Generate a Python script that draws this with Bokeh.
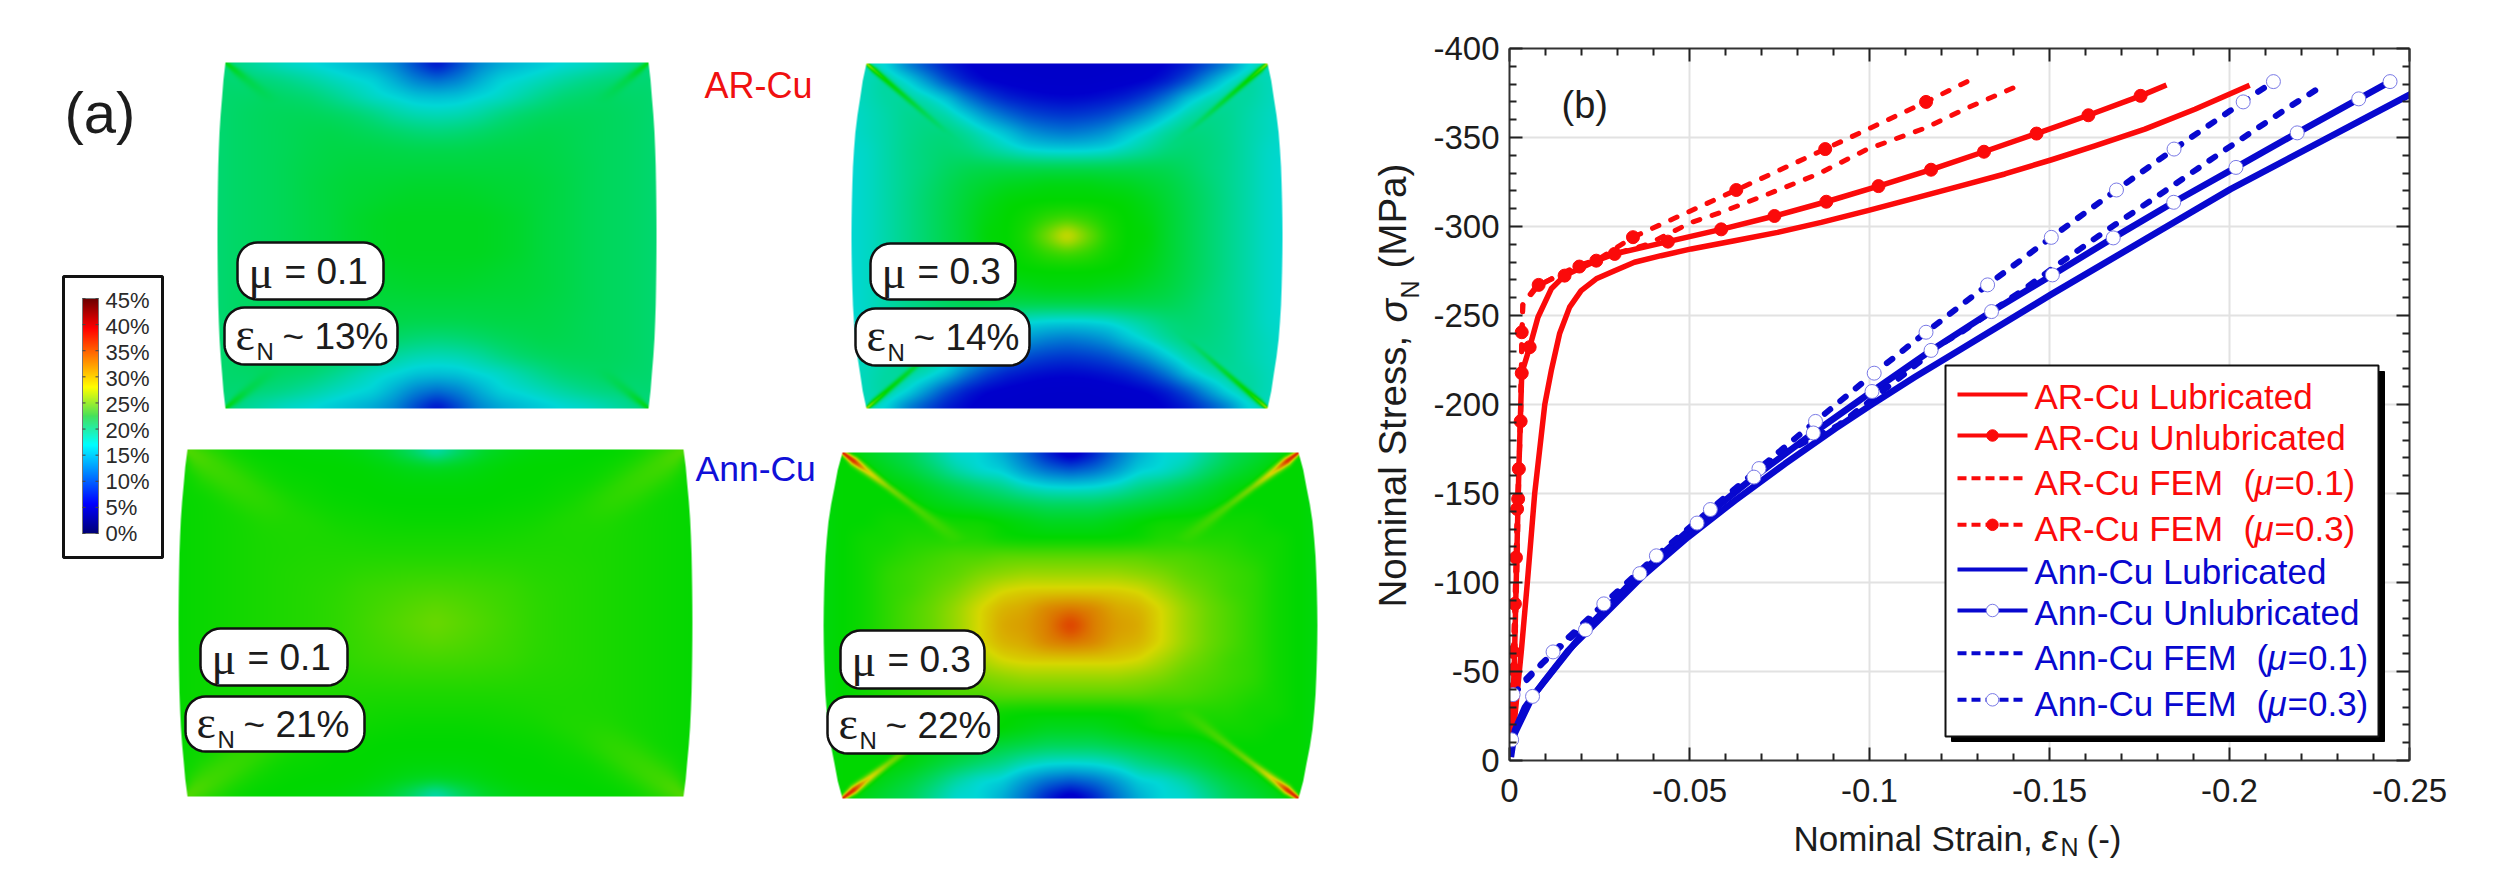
import math
import numpy as np
from bokeh.embed import file_html
from bokeh.resources import INLINE
from bokeh.layouts import row, column
from bokeh.models import Range1d, LinearAxis, FixedTicker, Label
from bokeh.plotting import figure

# ---------- chart (b): values (magnitudes of strain, MPa) ----------
ar_lub_e = [0.0004, 0.0013, 0.0033, 0.005, 0.007, 0.0098, 0.0116, 0.0139, 0.0167, 0.0199, 0.0241, 0.0292, 0.0347, 0.0421, 0.0505, 0.0625, 0.0745, 0.0866, 0.0995, 0.1134, 0.1256, 0.1376, 0.1506, 0.1626, 0.1765, 0.1904, 0.2056]
ar_lub_s = [2, 20.6, 61.8, 101, 150, 200, 219, 239.7, 254.7, 264, 270.6, 275.2, 279.9, 283.6, 287.4, 292, 296.7, 302.3, 308.9, 316.4, 323, 329.5, 337.5, 345.3, 354.7, 365.9, 379.3]
ar_unl_e = [0.0003, 0.0013, 0.0024, 0.0026, 0.0034, 0.0056, 0.0079, 0.0116, 0.0153, 0.0241, 0.0292, 0.044, 0.0588, 0.0736, 0.088, 0.1025, 0.1171, 0.1318, 0.1464, 0.1608, 0.1753, 0.1825]
ar_unl_s = [5, 51, 147, 163.8, 217.6, 232.2, 249, 265, 272.4, 280.8, 284.6, 291.5, 298.4, 305.9, 313.9, 322.7, 331.9, 342, 352.2, 362.5, 373.4, 379.5]
ar_unl_me = [0.0013, 0.0024, 0.0026, 0.0034, 0.0056, 0.0153, 0.0292, 0.044, 0.0588, 0.0736, 0.088, 0.1025, 0.1171, 0.1318, 0.1464, 0.1608, 0.1753]
ar_unl_ms = [51, 147, 163.8, 217.6, 232.2, 272.4, 284.6, 291.5, 298.4, 305.9, 313.9, 322.7, 331.9, 342, 352.2, 362.5, 373.4]
ar_f1_e = [0.0003, 0.0008, 0.0015, 0.002, 0.0025, 0.003, 0.0033, 0.0037, 0.0069, 0.0116, 0.019, 0.0292, 0.0384, 0.0505, 0.0588, 0.0718, 0.0856, 0.0995, 0.1153, 0.1274, 0.1422]
ar_f1_s = [5, 20, 60, 100, 150, 190, 220, 256.5, 265, 270.6, 278, 284.6, 290, 302.3, 308, 318.2, 329.4, 343.5, 355.2, 366.8, 379.9]
ar_f3_e = [0.0003, 0.001, 0.0015, 0.0018, 0.0021, 0.0031, 0.0034, 0.0037, 0.0081, 0.0194, 0.0241, 0.0343, 0.063, 0.0877, 0.1157, 0.1278]
ar_f3_s = [5, 61, 88, 114, 141.3, 190.6, 240.6, 256, 267.2, 277.5, 280.8, 294, 320.5, 343.5, 370, 382.1]
ar_f3_me = [0.001, 0.0015, 0.0018, 0.0021, 0.0031, 0.0034, 0.0081, 0.0194, 0.0241, 0.0343, 0.063, 0.0877, 0.1157]
ar_f3_ms = [61, 88, 114, 141.3, 190.6, 240.6, 267.2, 277.5, 280.8, 294, 320.5, 343.5, 370]

ann_lub_e = [0.0004, 0.0015, 0.0043, 0.0098, 0.0163, 0.0256, 0.0367, 0.0496, 0.0626, 0.0765, 0.0904, 0.1006, 0.1126, 0.1256, 0.1506, 0.2003, 0.2503]
ann_lub_s = [2, 17, 30, 45, 61.8, 80.5, 103, 125.5, 146, 166.7, 186.3, 200, 215.4, 231.3, 262, 321, 374.3]
ann_unl_e = [0.0006, 0.0064, 0.0211, 0.0362, 0.0521, 0.0679, 0.0844, 0.1007, 0.1171, 0.1339, 0.1508, 0.1677, 0.1845, 0.2018, 0.2188, 0.2359, 0.2446]
ann_unl_s = [11.6, 36, 73.4, 105, 133.4, 159.2, 184, 207.3, 230.4, 252.2, 272.8, 293.6, 313.6, 333.2, 352.6, 371.7, 381.4]
ann_f1_e = [0.0047, 0.0089, 0.0172, 0.0302, 0.0441, 0.0607, 0.0737, 0.0913, 0.0996, 0.108, 0.1208, 0.1255, 0.1431, 0.1519, 0.1644, 0.1821, 0.1991, 0.2163, 0.2265]
ann_f1_s = [46, 54.3, 69.4, 93.7, 118, 148, 170.4, 188.2, 201.2, 214.4, 235, 240.6, 265, 278, 295.8, 320, 343.5, 366.8, 379.9]
ann_f3_e = [0.001, 0.0121, 0.0262, 0.0408, 0.0558, 0.0693, 0.085, 0.1013, 0.1157, 0.1328, 0.1505, 0.1686, 0.1846, 0.2038, 0.2122]
ann_f3_s = [37, 61, 88, 115, 141, 164, 190.5, 217.6, 240.6, 267.2, 293.9, 320.5, 343.5, 370, 381.4]

x_ticks = [0, -0.05, -0.1, -0.15, -0.2, -0.25]
x_tick_labels = ["0", "-0.05", "-0.1", "-0.15", "-0.2", "-0.25"]
y_ticks = [0, -50, -100, -150, -200, -250, -300, -350, -400]
y_tick_labels = ["0", "-50", "-100", "-150", "-200", "-250", "-300", "-350", "-400"]

legend_names = ["AR-Cu Lubricated", "AR-Cu Unlubricated", "AR-Cu FEM", "AR-Cu FEM", "Ann-Cu Lubricated", "Ann-Cu Unlubricated", "Ann-Cu FEM", "Ann-Cu FEM"]
legend_mu = [None, None, "=0.1)", "=0.3)", None, None, "=0.1)", "=0.3)"]

# ---------- panels (a): strain levels read on a quarter of each specimen ----------
# rows: centre -> top edge; columns: centre -> side edge
p1_levels = [
 [21,21,21,20.8,20.5,20,19.7,19.3,19,18.8,18.5,18],
 [21,21,21,20.8,20.5,20,19.7,19.3,19,18.8,18.5,18],
 [20.8,20.8,20.7,20.5,20.3,20,19.7,19.3,19,18.8,18.5,18],
 [20.5,20.5,20.4,20.3,20.2,20,19.7,19.3,19,18.8,18.5,18],
 [20,20,20,20,20,19.8,19.6,19.3,19,18.8,18.5,18],
 [19.5,19.5,19.6,19.7,19.7,19.7,19.5,19.2,19,18.8,18.5,18],
 [18,18.2,18.6,19,19.3,19.5,19.4,19.2,19,18.8,18.5,18],
 [16,16.2,16.8,17.8,18.5,18.9,19.1,19.1,19,18.8,18.5,18],
 [14,14.2,15,15.5,16.5,17.5,18.3,18.6,18.8,18.6,18.5,18],
 [10,11,13,14.8,15.3,16,16.8,17.5,18,18.2,18.3,18],
 [5,8,11,12.5,13.5,14.2,14.8,15.2,16,17,18,18],
]
p2_levels = [
 [30,26,23,22,21.8,20.5,19.5,18.5,17.5,16.5,15.5,15],
 [24,23.5,22.5,22,21.5,20.5,19.5,18.5,17.5,16.5,15.5,15],
 [22,22,22,21.8,21.2,20.3,19.4,18.5,17.5,16.5,15.5,15],
 [21.5,21.5,21.2,21,20.5,20,19.2,18.3,17.4,16.5,15.5,15],
 [19.5,19.5,19.5,19.5,19.5,19.3,18.8,18,17.4,16.5,15.5,15],
 [14.5,14.6,15,16,17,18,18.3,18,17.4,16.5,15.5,15.2],
 [10.5,11,12,14,15.5,17,18,17.8,17.3,16.5,15.8,15.2],
 [7.5,7.8,8.5,10,12,14.5,16.5,17.5,17.3,16.5,15.8,15.3],
 [5.2,5.4,5.8,6.5,8,10.5,14,16,17,16.8,16,15.5],
 [4,4,4.3,4.6,5,6.2,8.5,12,15.2,17,16,15.5],
 [3.5,3.5,3.7,4,4.2,5,6,8,10.5,14.5,16,15.5],
]
p3_levels = [
 [25.5,25,24.5,24,23.5,23.2,23,22.8,22.6,22.4,22.2,22],
 [25,24.7,24.3,23.9,23.5,23.2,23,22.8,22.6,22.4,22.2,22],
 [24.3,24.2,24,23.8,23.4,23.2,23,22.8,22.6,22.4,22.2,22],
 [23.6,23.6,23.5,23.4,23.2,23.1,23,22.8,22.6,22.4,22.2,22],
 [23,23,23,23,23,23,22.9,22.8,22.6,22.4,22.2,22],
 [22.6,22.6,22.6,22.7,22.8,22.9,22.9,22.8,22.6,22.4,22.2,22],
 [22.2,22.2,22.3,22.4,22.5,22.7,22.8,22.8,22.6,22.4,22.2,22],
 [22,22,22,22.1,22.2,22.4,22.6,22.8,22.7,22.4,22.2,22],
 [21.8,21.8,21.9,22,22,22.2,22.3,22.5,22.8,22.5,22.3,22],
 [21,21.2,21.6,21.9,22,22,22.1,22.3,22.5,22.5,22.4,22.2],
 [15.5,18.5,20.5,21.3,21.7,21.8,21.9,22,22.2,22.5,22.5,22.4],
]
p4_levels = [
 [36,32.8,31.5,31,29,27,25.5,24.5,23.5,22.5,22,21.5],
 [33,32.5,31,30.5,29,27,25.5,24.5,23.5,22.5,22,21.5],
 [29.5,29.5,29.5,29,27.5,26,25,24,23.5,22.5,22,21.5],
 [27,27,27,26.5,26,25,24.5,24,23.5,22.5,22,21.5],
 [25,25,25,25,24.5,24.5,24,23.5,23,22.5,22,21.5],
 [22,22,22,22.2,23,23,23,23,22.5,22.5,22,21.5],
 [21,21,21.5,22,22.5,22.5,22.5,22.5,22.5,22,22,21.5],
 [19,19,19.5,20,20.5,21,21.5,22,22,22,22,21.5],
 [15,15.2,16,17.5,18.5,19.5,20.5,21.5,22,22,22,21.5],
 [9,10,12,14.5,15,16.5,18.5,20,21,22,22,21.5],
 [3,6,10,13,15,15,17,19,20,21,22,21.5],
]
p_u = [0, .1, .2, .3, .4, .5, .6, .7, .8, .9, 1.0, 1.1]
p_v = [0, .1, .2, .3, .4, .5, .6, .7, .8, .9, 1.0]
barrel_shape = [1, .99, .97, .94, .9, .83, .74, .6, .42, .25, 0]
# level along the corner streak (distance from corner as share of half diagonal), and its width
p1_streak = ([0, .05, .1, .2, .3], [21.5, 20.5, 19.5, 19, 18.6], [2, 4, 5, 6, 6])
p2_streak = ([0, .04, .1, .2, .3, .4], [28, 24, 22, 20.5, 19, 18], [1.5, 3, 3, 3, 3, 3])
p3_streak = ([0, .05, .1, .2, .3, .4, .5], [24.5, 24.3, 24, 23.7, 23.4, 23, 22.9], [6, 14, 18, 18, 18, 18, 18])
p4_streak = ([0, .05, .1, .2, .3, .4, .5, .6], [37, 36, 30, 26, 24.5, 24, 23.5, 22.5], [2, 4, 4, 3.5, 4, 6, 8, 10])

# panel colours and colour-bar colours: level, r, g, b
field_colors = [(0, 0, 0, 190), (5, 0, 0, 205), (15, 0, 215, 215), (22, 0, 215, 0), (29, 215, 215, 0), (37, 225, 25, 0), (45, 130, 0, 0)]
bar_colors = [(0, 0, 0, 120), (5.6, 0, 0, 255), (16.9, 0, 255, 255), (22.5, 70, 225, 90), (28.1, 255, 255, 0), (39.4, 255, 0, 0), (45, 110, 0, 0)]
bar_labels = ["45%", "40%", "35%", "30%", "25%", "20%", "15%", "10%", "5%", "0%"]

RED = "#fb0a0a"
BLUE = "#0808cf"
TXT = "#1c1c1c"
SANS = "Liberation Sans"


def colorize(levels, table):
    t = np.array(table, dtype=float)
    return [np.interp(levels, t[:, 0], t[:, i]) for i in (1, 2, 3)]


def box_blur(a, r, axis):
    pad = [(0, 0), (0, 0)]
    pad[axis] = (r + 1, r)
    c = np.cumsum(np.pad(a, pad, mode="edge"), axis=axis)
    n = a.shape[axis]
    hi = np.take(c, range(2 * r + 1, n + 2 * r + 1), axis=axis)
    lo = np.take(c, range(0, n), axis=axis)
    return (hi - lo) / (2 * r + 1)


def render(levels, streak, box, bulge, blur=5):
    x0, x1, y0, y1 = box
    hw, hh = (x1 - x0) / 2.0, (y1 - y0) / 2.0
    W = int(round(2 * hw * bulge))
    H = int(round(y1 - y0))
    xs = (np.arange(W) + .5) - W / 2.0
    ys = (np.arange(H) + .5) - H / 2.0
    X, Y = np.meshgrid(xs, ys)
    u, v = np.abs(X) / hw, np.abs(Y) / hh
    g = np.array(levels, dtype=float)
    fi = np.clip(np.interp(u, p_u, np.arange(len(p_u))), 0, len(p_u) - 1.001)
    fj = np.clip(np.interp(v, p_v, np.arange(len(p_v))), 0, len(p_v) - 1.001)
    i, j = fi.astype(int), fj.astype(int)
    a, b = fi - i, fj - j
    F = (g[j, i] * (1 - a) * (1 - b) + g[j, i + 1] * a * (1 - b) + g[j + 1, i] * (1 - a) * b + g[j + 1, i + 1] * a * b)
    for _ in range(2):
        F = box_blur(box_blur(F, blur, 1), blur, 0)
    # corner streak
    dx_, dy_ = (1 - u) * hw, (1 - v) * hh
    nrm = math.hypot(hw, hh)
    along = (dx_ * hw + dy_ * hh) / nrm
    across = (dx_ * hh - dy_ * hw) / nrm
    d = along / nrm
    sd, sv, sw = streak
    peak = np.interp(d, sd, sv)
    width = np.interp(d, sd, sw)
    fade = np.clip((sd[-1] + .1 - d) / .1, 0, 1) * (d > -0.02)
    weight = np.exp(-(across / width) ** 2) * fade
    F = F + np.maximum(peak - F, 0) * weight
    r, gg, bb = colorize(F, field_colors)
    edge = hw * (1 + (bulge - 1) * np.interp(v, p_v, barrel_shape))
    alpha = np.clip(edge - np.abs(X) + .5, 0, 1) * 255
    img = (alpha.astype(np.uint32) << 24) | (bb.astype(np.uint32) << 16) | (gg.astype(np.uint32) << 8) | r.astype(np.uint32)
    return img.astype(np.uint32), W, H


# ------------------------------ left figure (page pixels) ------------------------------
L_W = 1430
left = figure(width=L_W, height=888, x_range=Range1d(0, L_W), y_range=Range1d(-888, 0), toolbar_location=None,
              output_backend="svg", x_axis_location=None, y_axis_location=None, min_border=0, frame_align=False)
left.grid.visible = False
left.outline_line_color = None


def ltext(px, py, text, size, color=TXT, font=SANS, style="normal", align="left", base="middle", angle=0):
    left.add_layout(Label(x=px, y=-py, text=text, text_font_size=f"{size}px", text_color=color, text_font=font,
                          text_font_style=style, text_align=align, text_baseline=base, angle=angle))


panels = [
    (p1_levels, p1_streak, (225, 648, 62, 408), 1.038),
    (p2_levels, p2_streak, (866, 1267, 63, 408), 1.075),
    (p3_levels, p3_streak, (187, 683, 449, 796), 1.036),
    (p4_levels, p4_streak, (842, 1298, 452, 798), 1.083),
]
for lv, st, bx, bu in panels:
    im, W, H = render(lv, st, bx, bu)
    cx = (bx[0] + bx[1]) / 2.0
    left.image_rgba(image=[im], x=cx - W / 2.0, y=-bx[3], dw=W, dh=H)

tags = [
    ((237, 383, 242, 299), (224, 397, 307, 364), "= 0.1", "~ 13%"),
    ((870, 1015, 243, 299), (855, 1029, 308, 365), "= 0.3", "~ 14%"),
    ((200, 347, 628, 685), (185, 364, 696, 751), "= 0.1", "~ 21%"),
    ((840, 984, 630, 688), (827, 998, 696, 753), "= 0.3", "~ 22%"),
]


def rounded(b, r=20):
    x0, x1, y0, y1 = b
    xs, ys = [], []
    for cx, cy, a0 in ((x1 - r, y0 + r, -90), (x1 - r, y1 - r, 0), (x0 + r, y1 - r, 90), (x0 + r, y0 + r, 180)):
        for t in np.radians(np.linspace(a0, a0 + 90, 10)):
            xs.append(cx + r * math.cos(t))
            ys.append(-(cy + r * math.sin(t)))
    left.patch(xs, ys, fill_color="white", line_color="#111111", line_width=2.5)


for b1, b2, t1, t2 in tags:
    rounded(b1)
    rounded(b2)
    c1, c2 = (b1[2] + b1[3]) / 2.0, (b2[2] + b2[3]) / 2.0
    ltext(b1[0] + 11, c1 + 1, "μ", 46, font="Liberation Serif")
    ltext(b1[0] + 47, c1, t1, 37)
    ltext(b2[0] + 11, c2 - 2, "ε", 46, font="Liberation Serif")
    ltext(b2[0] + 32, c2 + 15, "N", 24)
    ltext(b2[0] + 58, c2, t2, 37)

ltext(64, 112, "(a)", 58)
ltext(704, 85, "AR-Cu", 36, color="#f01010")
ltext(695, 468, "Ann-Cu", 35.5, color="#1010d8")

# colour bar
left.quad(left=[63], right=[162], top=[-276], bottom=[-557], fill_color="white", line_color="#111111", line_width=3)
lev = np.linspace(45, 0, 236)
r_, g_, b_ = colorize(lev, bar_colors)
bar = (np.uint32(255) << 24) | (b_.astype(np.uint32) << 16) | (g_.astype(np.uint32) << 8) | r_.astype(np.uint32)
left.image_rgba(image=[bar[::-1].reshape(-1, 1).astype(np.uint32)], x=82, y=-533, dw=16, dh=235)
left.quad(left=[82], right=[98], top=[-298], bottom=[-533], fill_color=None, line_color="#777777", line_width=1)
for k, s in enumerate(bar_labels):
    yy = 300 + k * 25.9
    ltext(105, yy, s, 22, color="#2a2a2a")
    tick_y = -(298 + k * 235 / 9.0)
    left.segment([82, 95], [tick_y, tick_y], [85, 98], [tick_y, tick_y], line_color="#444444", line_width=1)

# y title of the chart lies in the left figure
U = math.pi / 2
ltext(1392, 607, "Nominal Stress,", 38.5, base="alphabetic", angle=U)
ltext(1393, 322, "σ", 39, style="italic", base="alphabetic", angle=U)
ltext(1409, 298, "N", 25, base="alphabetic", angle=U)
ltext(1392, 268, "(MPa)", 38.5, base="alphabetic", angle=U)

# ------------------------------ right figure: the chart ------------------------------
R_W = 2492 - L_W
P_H = 818
p = figure(width=R_W, height=P_H, x_range=Range1d(0, -0.25), y_range=Range1d(0, -400), toolbar_location=None,
           output_backend="svg", min_border_left=78, min_border_right=83, min_border_top=48, min_border_bottom=P_H - 760,
           frame_align=False)
p.outline_line_color = None


def minors(tk):
    out = []
    for a, b in zip(tk[:-1], tk[1:]):
        out += [a + (b - a) * f for f in (.2, .4, .6, .8)]
    return out


xt = FixedTicker(ticks=x_ticks, minor_ticks=minors(x_ticks))
yt = FixedTicker(ticks=y_ticks, minor_ticks=minors(y_ticks))
p.add_layout(LinearAxis(major_label_text_font_size="1px", major_label_standoff=0,
                        major_label_overrides={t: "" for t in x_ticks}), "above")
p.add_layout(LinearAxis(major_label_text_font_size="1px", major_label_standoff=0,
                        major_label_overrides={t: "" for t in y_ticks}), "right")
for ax in p.xaxis:
    ax.ticker = xt
for ax in p.yaxis:
    ax.ticker = yt
p.below[0].major_label_overrides = dict(zip(x_ticks, x_tick_labels))
p.left[0].major_label_overrides = dict(zip(y_ticks, y_tick_labels))
for ax in list(p.xaxis) + list(p.yaxis):
    ax.axis_line_color = "#333333"
    ax.axis_line_width = 2
    ax.major_tick_in = 13
    ax.major_tick_out = 0
    ax.minor_tick_in = 7
    ax.minor_tick_out = 0
    ax.major_tick_line_color = "#222222"
    ax.minor_tick_line_color = "#222222"
    ax.major_tick_line_width = 2
    ax.minor_tick_line_width = 2
for ax in (p.below[0], p.left[0]):
    ax.major_label_text_font = SANS
    ax.major_label_text_font_size = "33px"
    ax.major_label_text_color = TXT
p.below[0].major_label_standoff = 18
p.left[0].major_label_standoff = 10
p.xgrid.ticker = xt
p.ygrid.ticker = yt
for g in (p.xgrid, p.ygrid):
    g.grid_line_color = "#e2e2e2"
    g.grid_line_width = 2


def neg(a):
    return -np.array(a, dtype=float)


DASH = "7 13"
LJ = dict(line_join="round")
p.line(neg(ar_lub_e), neg(ar_lub_s), line_color=RED, line_width=5.5, **LJ)
p.line(neg(ar_unl_e), neg(ar_unl_s), line_color=RED, line_width=5.5, **LJ)
p.line(neg(ar_f1_e), neg(ar_f1_s), line_color=RED, line_width=5, line_dash=DASH, line_cap="round", **LJ)
p.line(neg(ar_f3_e), neg(ar_f3_s), line_color=RED, line_width=5, line_dash=DASH, line_cap="round", **LJ)
p.scatter(neg(ar_f3_me), neg(ar_f3_ms), size=13, fill_color=RED, line_color=RED)
p.scatter(neg(ar_unl_me), neg(ar_unl_ms), size=13, fill_color=RED, line_color=RED)
p.line(neg(ann_lub_e), neg(ann_lub_s), line_color=BLUE, line_width=6.5, **LJ)
p.line(neg(ann_unl_e), neg(ann_unl_s), line_color=BLUE, line_width=6.5, **LJ)
p.line(neg(ann_f1_e), neg(ann_f1_s), line_color=BLUE, line_width=6, line_dash=DASH, line_cap="round", **LJ)
p.line(neg(ann_f3_e), neg(ann_f3_s), line_color=BLUE, line_width=6, line_dash=DASH, line_cap="round", **LJ)
p.scatter(neg(ann_f3_e), neg(ann_f3_s), size=14, fill_color="white", line_color="#7a7ae6", line_width=1)
p.scatter(neg(ann_unl_e), neg(ann_unl_s), size=14, fill_color="white", line_color="#7a7ae6", line_width=1)


def dx(px):
    return -(px - 1508) / 3600.0


def dy(py):
    return -(760 - py) / 1.78


def rtext(px, py, text, size, color=TXT, font=SANS, style="normal", align="left", base="middle", angle=0):
    p.add_layout(Label(x=dx(px), y=dy(py), text=text, text_font_size=f"{size}px", text_color=color, text_font=font,
                       text_font_style=style, text_align=align, text_baseline=base, angle=angle))


rtext(1560, 104, "(b)", 38)

# legend box, with shadow
p.quad(left=[dx(1950)], right=[dx(2383)], top=[dy(371)], bottom=[dy(741)], fill_color="black", line_color="black")
p.quad(left=[dx(1944)], right=[dx(2377)], top=[dy(365)], bottom=[dy(736)], fill_color="white", line_color="#111111", line_width=2)
line_ys = [394, 435, 477.7, 524.3, 569, 610, 652.7, 699.3]
text_ys = [396, 437, 482, 528, 571, 612, 657, 703]
kinds = ["solid", "mark", "dash", "dashmark", "solid", "mark", "dash", "dashmark"]
for k, (nm, mu, ly, ty, kind) in enumerate(zip(legend_names, legend_mu, line_ys, text_ys, kinds)):
    col = RED if k < 4 else BLUE
    lx, ly2 = [dx(1956), dx(2026)], [dy(ly), dy(ly)]
    dash = "9 5" if kind.startswith("dash") else "solid"
    p.line(lx, ly2, line_color=col, line_width=4, line_dash=dash)
    if "mark" in kind:
        if k < 4:
            p.scatter([dx(1991)], [dy(ly)], size=11.5, fill_color=RED, line_color=RED)
        else:
            p.scatter([dx(1991)], [dy(ly)], size=12.5, fill_color="white", line_color="#7a7ae6", line_width=1)
    rtext(2033, ty, nm, 35, color=col)
    if mu:
        off = 0 if k < 4 else 13
        rtext(2242 + off, ty, "(", 35, color=col)
        rtext(2253 + off, ty, "μ", 35, color=col, style="italic")
        rtext(2273 + off, ty, mu, 35, color=col)

# ------------------------------ strip under the chart: x title (transparent, overlaps the label gap) ------------------------------
S_TOP = 804
strip = figure(width=R_W, height=888 - S_TOP, x_range=Range1d(L_W, 2492), y_range=Range1d(-888, -S_TOP), toolbar_location=None,
               output_backend="svg", x_axis_location=None, y_axis_location=None, min_border=0, frame_align=False,
               margin=(S_TOP - P_H, 0, 0, 0))
strip.grid.visible = False
strip.outline_line_color = None
strip.background_fill_alpha = 0
strip.border_fill_alpha = 0


def stext(px, py, text, size, style="normal"):
    strip.add_layout(Label(x=px, y=-py, text=text, text_font_size=f"{size}px", text_color=TXT, text_font=SANS,
                           text_font_style=style, text_align="left", text_baseline="alphabetic"))


stext(1793, 838, "Nominal Strain,", 35)
stext(2041, 838, "ε", 37, style="italic")
stext(2060, 846, "N", 25)
stext(2086, 838, "(-)", 35)

open("out.html", "w").write(file_html(row(left, column(p, strip, spacing=0), spacing=0), INLINE))
